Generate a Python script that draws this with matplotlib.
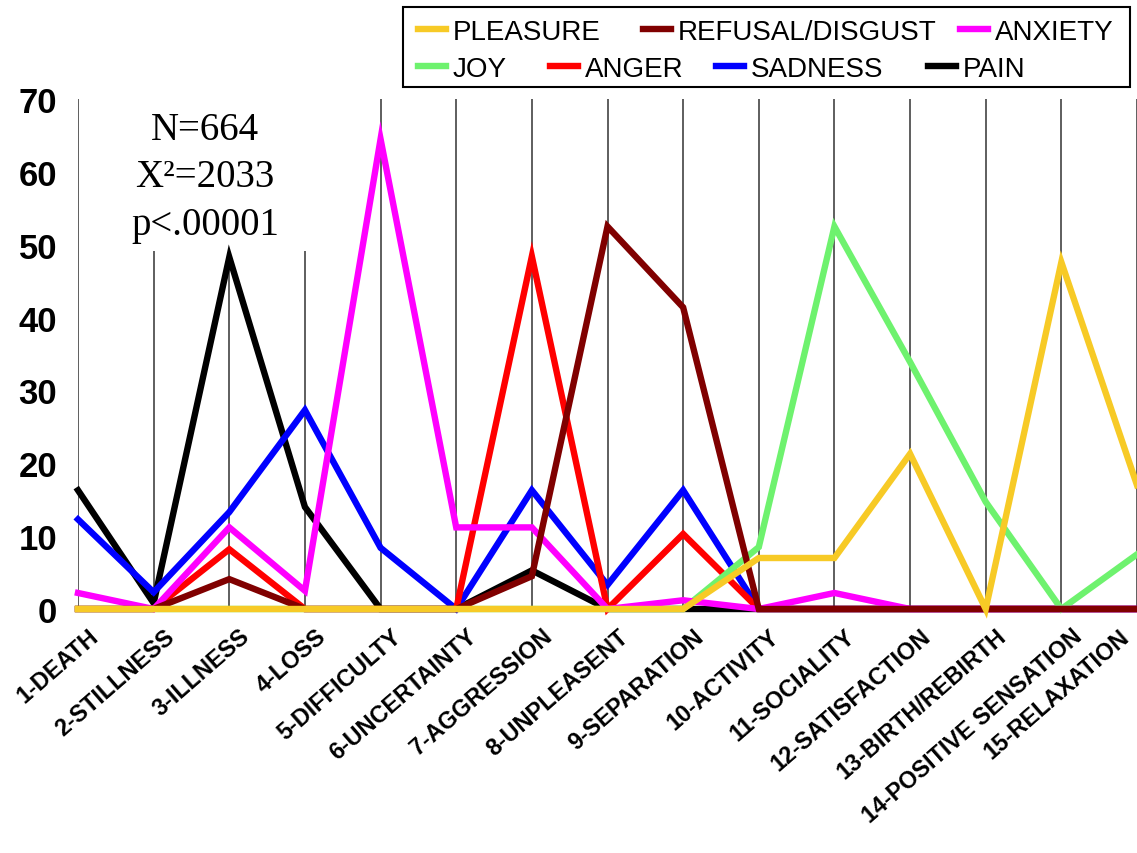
import matplotlib
matplotlib.use('Agg')
import matplotlib.pyplot as plt
import matplotlib.transforms as mtransforms
from matplotlib.patches import Rectangle
import numpy as np

categories = ['1-DEATH', '2-STILLNESS', '3-ILLNESS', '4-LOSS', '5-DIFFICULTY',
              '6-UNCERTAINTY', '7-AGGRESSION', '8-UNPLEASENT', '9-SEPARATION',
              '10-ACTIVITY', '11-SOCIALITY', '12-SATISFACTION', '13-BIRTH/REBIRTH',
              '14-POSITIVE SENSATION', '15-RELAXATION']

pleasure = [0, 0, 0, 0, 0, 0, 0, 0, 0, 7, 7, 21.3, 0, 47.6, 17]
refusal = [0, 0, 4.1, 0, 0, 0, 4.5, 52.5, 41.4, 0, 0, 0, 0, 0, 0]
anxiety = [2.2, 0, 11.2, 2.5, 64.5, 11.2, 11.2, 0, 1.2, 0, 2.2, 0, 0, 0, 0]
joy = [0, 0, 0, 0, 0, 0, 0, 0, 0, 8.5, 52.5, 33.9, 14.7, 0, 7.5]
anger = [0, 0, 8.2, 0, 0, 0, 48.4, 0, 10.3, 0, 0, 0, 0, 0, 0]
sadness = [12.3, 2.3, 13.3, 27.3, 8.4, 0, 16.3, 3.3, 16.3, 0, 0, 0, 0, 0, 0]
pain = [16.3, 0.8, 48.3, 14, 0, 0, 5.3, 0, 0, 0, 0, 0, 0, 0, 0]

stats_text = 'N=664\nX\u00b2=2033\np<.00001'

# name, values, colour, zorder (later series drawn on top)
series = [
    ('PLEASURE', pleasure, '#F7CA26', 10),
    ('REFUSAL/DISGUST', refusal, '#800000', 9),
    ('ANXIETY', anxiety, '#FF00FF', 8),
    ('JOY', joy, '#6EF26E', 7),
    ('ANGER', anger, '#FF0000', 6),
    ('SADNESS', sadness, '#0000FF', 5),
    ('PAIN', pain, '#000000', 4),
]

# legend entry anchors in pixels (x of handle start, y centre of row)
legend_pos = [(418, 33), (643, 33), (960, 33),
              (418, 70), (550, 70), (716, 70), (928, 70)]

W, H = 1137, 854
fig = plt.figure(figsize=(W / 100, H / 100), dpi=100)
ax = fig.add_axes([78 / W, (H - 610) / H, 1 - 78 / W, (610 - 100) / H])

x = np.arange(1, len(categories) + 1)

ax.vlines(x, 0, 70, color='#333333', lw=1.1, zorder=1)
# white block behind the statistics text hides the grid lines
ax.add_patch(Rectangle((1.45, 49.2), 3.1, 21, facecolor='white', edgecolor='none', zorder=1.5))
ax.text(2.68, 59.3, stats_text, ha='center', va='center', fontsize=28,
        family='Liberation Serif', linespacing=1.38, zorder=2)

handles = []
for name, vals, col, z in series:
    ln, = ax.plot(x, vals, color=col, lw=4.6, zorder=z, clip_on=False,
                  solid_joinstyle='miter', label=name)
    handles.append(ln)

ax.set_xlim(1, 15)
ax.set_ylim(0, 70)
ax.set_yticks(np.arange(0, 71, 10))
ax.set_yticklabels([str(v) for v in range(0, 71, 10)], fontsize=25,
                   fontweight='bold', family='Liberation Sans')
ax.tick_params(axis='y', length=0, pad=15)
ax.set_xticks(x)
ax.set_xticklabels(categories, rotation=41, ha='right', va='top',
                   rotation_mode='anchor', fontsize=16.8, fontweight='bold',
                   family='Liberation Sans')
ax.tick_params(axis='x', length=0, pad=11)

labels = ax.get_xticklabels()
for i, lbl in enumerate(labels):
    dx = 10 if i < len(labels) - 1 else -18
    lbl.set_transform(lbl.get_transform() +
                      mtransforms.ScaledTranslation(dx / 100, 0, fig.dpi_scale_trans))

for s in ['top', 'right', 'left']:
    ax.spines[s].set_visible(False)
ax.spines['bottom'].set_color('black')
ax.spines['bottom'].set_linewidth(1.5)

# legend, laid out entry by entry like the original
fig.add_artist(Rectangle((403 / W, 1 - 88 / H), (1130 - 403) / W, 80 / H,
                         transform=fig.transFigure, facecolor='white',
                         edgecolor='black', lw=1.5))
for h, (px, py) in zip(handles, legend_pos):
    fig.legend(handles=[h], labels=[h.get_label()], loc='center left',
               bbox_to_anchor=(px / W, 1 - py / H), frameon=False,
               handlelength=1.0, handletextpad=0.25, borderpad=0,
               borderaxespad=0, prop={'family': 'Liberation Sans', 'size': 20})

fig.savefig('out.png', dpi=100)
